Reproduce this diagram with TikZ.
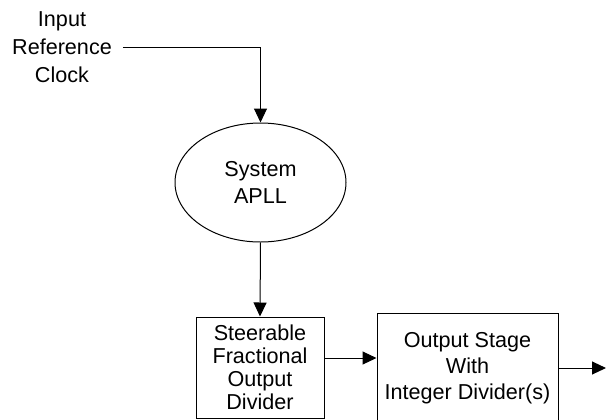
\documentclass[tikz,border=0pt]{standalone}
\usepackage{fontspec}
\setmainfont{Liberation Sans}
\usetikzlibrary{positioning,shapes.geometric,arrows.meta}

\begin{document}
\begin{tikzpicture}[x=0.5pt, y=-0.5pt,
    every node/.style = {align=center, font=\fontsize{10.8}{13}\selectfont},
    block/.style = {draw, line width=0.5pt},
    flow/.style = {draw, line width=0.5pt, -{Triangle[length=7pt, width=6.5pt]}}]
    \useasboundingbox (0,0) rectangle (606,419);
    \node (ref) at (62,47) [font=\fontsize{10.8}{14}\selectfont] {Input\\Reference\\Clock};
    \node[block, ellipse, minimum width=85.5pt, minimum height=59.5pt, inner sep=0pt] (pll) at (260.5,182.5)
        [font=\fontsize{10.8}{13.5}\selectfont] {System\\APLL};
    \node[block, minimum width=64pt, minimum height=50.5pt, inner sep=0pt] (frac) at (260,367.5)
        [font=\fontsize{10.8}{11.5}\selectfont] {Steerable\\Fractional\\Output\\Divider};
    \node[block, minimum width=90.5pt, minimum height=55.5pt, inner sep=0pt] (stage) at (467.5,368.5)
        {Output Stage\\With\\Integer Divider(s)};
    \coordinate (mid) at ([yshift=4.75pt]frac.east);
    \coordinate (out) at (606,368);
    \path[flow] ([xshift=2pt]ref.east) -| (pll.north);
    \path[flow] (pll.south) -- (frac.north);
    \path[flow] (mid) -- (mid -| stage.west);
    \path[flow] (stage.east |- out) -- (out);
\end{tikzpicture}
\end{document}
